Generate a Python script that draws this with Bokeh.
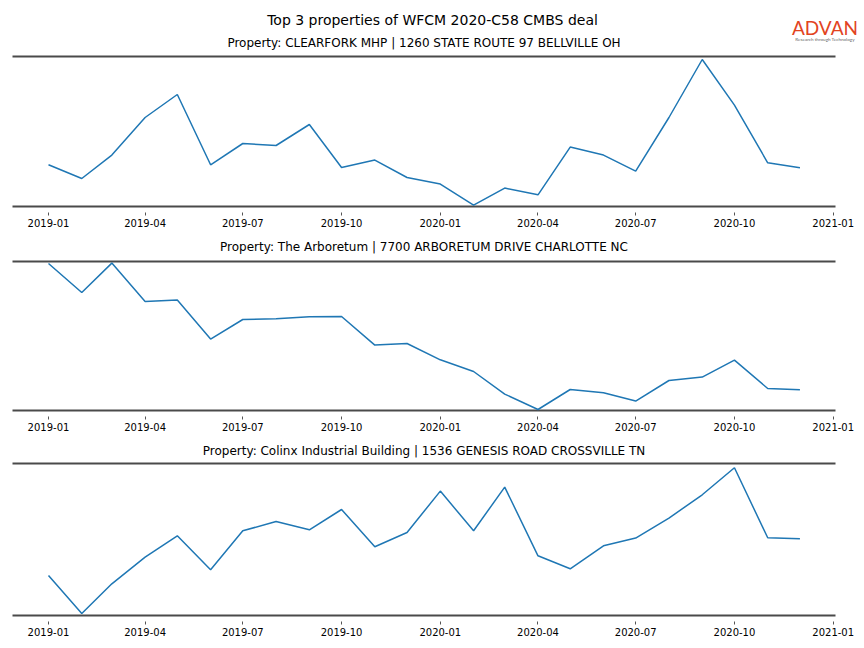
from datetime import datetime, timedelta
import pandas as pd
from bokeh.plotting import figure
from bokeh.layouts import column
from bokeh.models import Range1d, Label, FixedTicker, DatetimeTickFormatter
from bokeh.embed import file_html
from bokeh.resources import INLINE

# ---- data ----
months = pd.date_range("2019-01-01", "2020-12-01", freq="MS")

clearfork = [41.7, 28.0, 51.4, 89.0, 112.0, 41.7, 63.0, 61.0, 82.0, 39.0, 46.4, 29.0,
             22.4, 1.4, 18.4, 11.7, 59.4, 51.4, 35.4, 89.0, 147.0, 101.4, 43.7, 38.7]
arboretum = [147.0, 118.0, 147.4, 109.0, 110.4, 71.4, 91.0, 91.7, 93.7, 94.0, 65.4, 67.0,
             50.7, 39.0, 16.4, 1.0, 21.0, 17.7, 9.4, 30.0, 33.4, 50.4, 22.0, 20.7]
colinx = [40.0, 2.0, 31.7, 58.4, 79.7, 45.7, 84.7, 94.0, 85.7, 106.0, 68.7, 83.0,
          124.4, 84.7, 128.4, 59.7, 46.7, 69.7, 77.4, 97.4, 120.7, 147.7, 77.7, 76.7]

series = [clearfork, arboretum, colinx]
subtitles = [
    "Property: CLEARFORK MHP | 1260 STATE ROUTE 97 BELLVILLE OH",
    "Property: The Arboretum | 7700 ARBORETUM DRIVE CHARLOTTE NC",
    "Property: Colinx Industrial Building | 1536 GENESIS ROAD CROSSVILLE TN",
]
y_tops = [150, 149, 152]
main_title = "Top 3 properties of WFCM 2020-C58 CMBS deal"
tick_dates = pd.date_range("2019-01-01", "2021-01-01", freq="3MS")

# ---- layout settings ----
FONT = "DejaVu Sans"
W = 862
PX_PER_DAY = 784.7 / 731.0
ref = datetime(2019, 1, 1)
x_start = ref - timedelta(days=48 / PX_PER_DAY)
x_end = x_start + timedelta(days=W / PX_PER_DAY)
axis_left = ref - timedelta(days=36 / PX_PER_DAY)
axis_right = datetime(2021, 1, 1) + timedelta(days=2.3 / PX_PER_DAY)
tick_ms = [d.timestamp() * 1000 for d in tick_dates]

frame_h = [208, 178, 179]        # frame height (px) incl. title space
bottoms = [26, 26, 24]           # axis area below frame
sub_y = [166, 166, 167]          # subtitle centre above frame bottom

figs = []
for i in range(3):
    top = frame_h[i] - 2
    p = figure(width=W, height=frame_h[i] + bottoms[i], x_axis_type="datetime",
               y_axis_location=None, output_backend="svg", toolbar_location=None,
               min_border_left=0, min_border_right=0,
               min_border_top=0, min_border_bottom=bottoms[i],
               x_range=Range1d(x_start, x_end), y_range=Range1d(-2, top))
    p.outline_line_color = None
    p.xgrid.visible = False
    p.ygrid.visible = False
    p.background_fill_color = "white"
    p.border_fill_color = "white"

    # spines (top and bottom)
    p.segment(x0=[axis_left, axis_left], y0=[0, y_tops[i]],
              x1=[axis_right, axis_right], y1=[0, y_tops[i]],
              line_color="#4a4a4a", line_width=2)

    p.line(months, series[i], line_color="#1f77b4", line_width=1.5)

    ax = p.xaxis[0]
    ax.ticker = FixedTicker(ticks=tick_ms)
    ax.formatter = DatetimeTickFormatter(
        years="%Y-%m", months="%Y-%m", days="%Y-%m", hours="%Y-%m",
        minutes="%Y-%m", seconds="%Y-%m", milliseconds="%Y-%m")
    ax.axis_line_color = None
    ax.minor_tick_line_color = None
    ax.major_tick_in = -4
    ax.major_tick_out = 7
    ax.major_tick_line_color = "#555555"
    ax.major_tick_line_width = 1
    ax.major_label_standoff = 3
    ax.major_label_text_font = FONT
    ax.major_label_text_font_size = "10px"
    ax.major_label_text_color = "black"

    p.add_layout(Label(x=423.5, y=sub_y[i], x_units="screen", y_units="screen",
                       text=subtitles[i], text_align="center", text_baseline="middle",
                       text_font=FONT, text_font_size="12px", text_color="black"))
    figs.append(p)

p1 = figs[0]
p1.add_layout(Label(x=432, y=189, x_units="screen", y_units="screen",
                    text=main_title, text_align="center", text_baseline="middle",
                    text_font=FONT, text_font_size="14px", text_color="black"))
p1.add_layout(Label(x=824.5, y=181, x_units="screen", y_units="screen",
                    text="ADVAN", text_align="center", text_baseline="middle",
                    text_font="Lato", text_font_size="19px", text_color="#e2431e"))
p1.add_layout(Label(x=824.5, y=170, x_units="screen", y_units="screen",
                    text="Research through Technology", text_align="center",
                    text_baseline="middle", text_font="Lato", text_font_size="4.6px",
                    text_color="#666666"))

layout = column(*figs, spacing=0)
open("out.html", "w").write(file_html(layout, INLINE))
